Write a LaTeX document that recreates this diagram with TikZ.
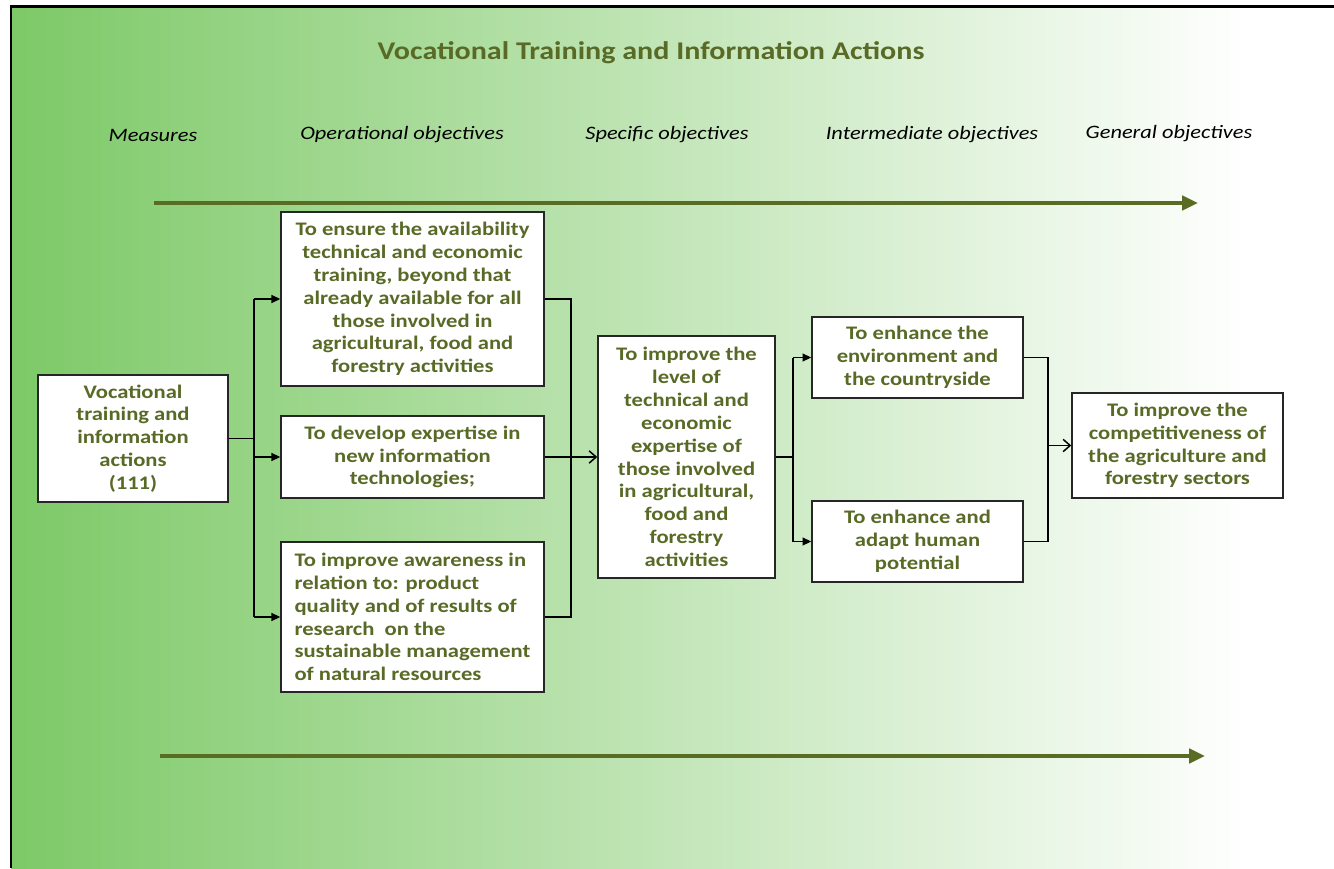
\documentclass[tikz,border=0pt]{standalone}
\usepackage{fontspec}
\setmainfont{Carlito}[FakeStretch=1.18]
\usetikzlibrary{arrows.meta}
\definecolor{oltext}{HTML}{586A26}
\definecolor{olarrow}{HTML}{5A6B24}
\definecolor{lgreen}{HTML}{7DC967}
\begin{document}
\begin{tikzpicture}
        [x=0.02cm, y=-0.02cm,
        box/.style={draw=black!85, line width=0.85pt, fill=white, inner sep=0pt, align=center, text=oltext, font=\fontsize{10.9}{13}\selectfont\bfseries},
        lab/.style={font=\fontsize{10.8}{13}\selectfont\itshape},
        link/.style={black, line width=0.85pt},
        fwd/.style={-{Triangle[length=5pt,width=4.5pt]}},
        opn/.style={-{Straight Barb[length=4pt,width=7pt]}},
        bigarrow/.style={olarrow, line width=2.8pt, -{Triangle[length=9pt,width=8pt]}}]

        \useasboundingbox (0,0) rectangle (1334,868);
        \shade[left color=lgreen, right color=white] (11,7) rectangle (1250,868);
        \draw[line width=1.4pt] (11,868) -- (11,6.5) -- (1334,6.5);

        \node[text=oltext, font=\fontsize{14.5}{17}\selectfont\bfseries] (title) at (651,53) {Vocational Training and Information Actions};

        % column headings
        \node[lab] (lm) at (153,135) {Measures};
        \node[lab] (lo) at (402,135) {Operational objectives};
        \node[lab] (ls) at (667,135) {Specific objectives};
        \node[lab] (li) at (932,135) {Intermediate objectives};
        \node[lab] (lg) at (1169,134) {General objectives};

        % boxes
        \node[box, minimum width=3.8cm, minimum height=2.54cm] (m) at (133,438.5) {Vocational\\training and\\information\\actions\\(111)};
        \node[box, minimum width=5.26cm, minimum height=3.48cm] (o1) at (412.5,299) {To ensure the availability\\technical and economic\\training, beyond that\\already available for all\\those involved in\\agricultural, food and\\forestry activities};
        \node[box, minimum width=5.26cm, minimum height=1.64cm] (o2) at (412.5,457) {To develop expertise in\\new information\\technologies;};
        \node[box, align=left, minimum width=5.26cm, minimum height=3cm] (o3) at (412.5,617) {To improve awareness in\\relation to: product\\quality and of results of\\research\ \ on the\\sustainable management\\of natural resources};
        \node[box, minimum width=3.54cm, minimum height=4.84cm] (s) at (686.5,457) {To improve the\\level of\\technical and\\economic\\expertise of\\those involved\\in agricultural,\\food and\\forestry\\activities};
        \node[box, minimum width=4.22cm, minimum height=1.62cm] (i1) at (917.5,357.5) {To enhance the\\environment and\\the countryside};
        \node[box, minimum width=4.22cm, minimum height=1.62cm] (i2) at (917.5,541.5) {To enhance and\\adapt human\\potential};
        \node[box, minimum width=4.22cm, minimum height=2.1cm] (g) at (1177.5,445.5) {To improve the\\competitiveness of\\the agriculture and\\forestry sectors};

        % bus lines
        \coordinate (bl) at (254,0);
        \coordinate (br) at (571,0);
        \coordinate (bs) at (793,0);
        \coordinate (bi) at (1048,0);

        % measure to operational objectives
        \draw[link] (m.east) -- (m.east -| bl);
        \draw[link] (bl |- o1.west) -- (bl |- o3.west);
        \draw[link, fwd] (bl |- o1.west) -- (o1.west);
        \draw[link, fwd] (bl |- o2.west) -- (o2.west);
        \draw[link, fwd] (bl |- o3.west) -- (o3.west);

        % operational to specific
        \draw[link] (o1.east) -| (br |- o3.east) -- (o3.east);
        \draw[link, opn] (o2.east) -- (s.west);

        % specific to intermediate
        \draw[link] (s.east) -- (s.east -| bs);
        \draw[link] (bs |- i1.west) -- (bs |- i2.west);
        \draw[link, fwd] (bs |- i1.west) -- (i1.west);
        \draw[link, fwd] (bs |- i2.west) -- (i2.west);

        % intermediate to general
        \draw[link] (i1.east) -| (bi |- i2.east) -- (i2.east);
        \draw[link, opn] (bi |- g.west) -- (g.west);

        % long arrows
        \coordinate (t1) at (154,203);
        \coordinate (t2) at (1198,203);
        \coordinate (u1) at (160,756);
        \coordinate (u2) at (1205,756);
        \draw[bigarrow] (t1) -- (t2);
        \draw[bigarrow] (u1) -- (u2);

    \end{tikzpicture}
\end{document}
